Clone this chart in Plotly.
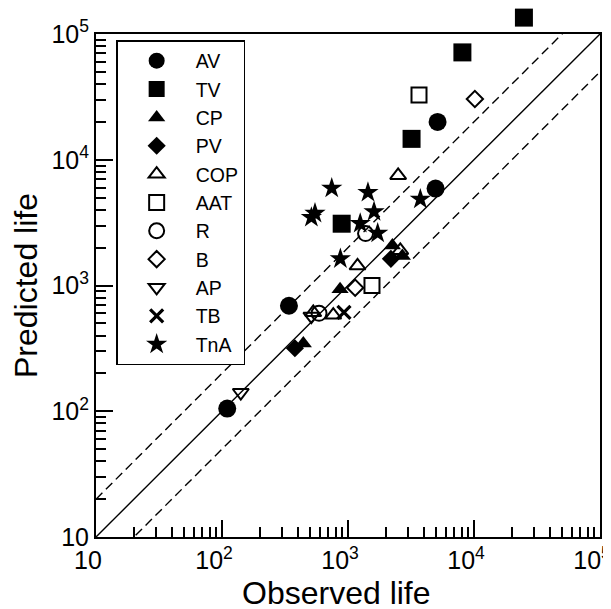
import plotly.graph_objects as go

# ---- data (observed life, predicted life) ----
AV_obs = [110, 340, 5140, 4955]
AV_pred = [105, 690, 20000, 5900]
TV_obs = [24900, 8090, 3195, 891]
TV_pred = [135000, 71400, 14660, 3100]
CP_obs = [442, 865, 2250, 2700]
CP_pred = [345, 935, 2080, 1720]
PV_obs = [379, 2190]
PV_pred = [317, 1630]
COP_obs = [2500, 1190, 2600, 764, 530]
COP_pred = [7500, 1435, 1900, 582, 610]
AAT_obs = [3660, 1550]
AAT_pred = [32700, 1000]
R_obs = [1378, 589]
R_pred = [2590, 601]
B_obs = [10160, 1140]
B_pred = [30400, 960]
AP_obs = [141, 512]
AP_pred = [141, 570]
TB_obs = [929]
TB_pred = [612]
TnA_obs = [3750, 743, 1440, 1610, 547, 512, 1250, 1720, 870]
TnA_pred = [4855, 5950, 5500, 3870, 3750, 3480, 3120, 2605, 1630]

axis_limits = [10, 100000]
ratio_lines = [1, 2, 0.5]
tick_values = [10, 100, 1000, 10000, 100000]
tick_labels = ["10", "10<sup>2</sup>", "10<sup>3</sup>", "10<sup>4</sup>", "10<sup>5</sup>"]
minor_values = [m * 10 ** d for d in range(1, 5) for m in range(2, 10)]

series = [
    ("AV", AV_obs, AV_pred, "circle", 18, True),
    ("TV", TV_obs, TV_pred, "square", 18, True),
    ("CP", CP_obs, CP_pred, "triangle-up", 15, True),
    ("PV", PV_obs, PV_pred, "diamond", 14, True),
    ("COP", COP_obs, COP_pred, "triangle-up-open", 14, False),
    ("AAT", AAT_obs, AAT_pred, "square-open", 15, False),
    ("R", R_obs, R_pred, "circle-open", 15, False),
    ("B", B_obs, B_pred, "diamond-open", 12.5, False),
    ("AP", AP_obs, AP_pred, "triangle-down-open", 14, False),
    ("TB", TB_obs, TB_pred, "x-thin-open", 13, False),
    ("TnA", TnA_obs, TnA_pred, "star", 16, True),
]

# geometry (figure is offset by the page's 8px body margin)
W, H = 603, 601
ML, MR, MT, MB = 88, 11, 0, 72
plot_h = H - MT - MB            # full paper height (markers may go above frame)
frame_h = 503                   # visible frame height
dom_top = frame_h / plot_h
dec_y = 4 / dom_top             # decades spanned by the full paper height

fig = go.Figure()

# reference lines y = k x (main axes, clipped to frame)
for k in ratio_lines:
    fig.add_trace(go.Scatter(
        x=axis_limits, y=[k * v for v in axis_limits], mode="lines",
        line=dict(color="black", width=1.4, dash="solid" if k == 1 else "9px,5px"),
        showlegend=False, hoverinfo="skip", cliponaxis=True,
        xaxis="x", yaxis="y"))

# markers on an invisible axis with identical scale but taller domain
for name, xs, ys, sym, size, filled in series:
    if filled:
        marker = dict(symbol=sym, size=size, color="black", line=dict(width=0))
    else:
        lw = 3.2 if sym.startswith("x") else 2
        marker = dict(symbol=sym, size=size, color="black",
                      line=dict(width=lw, color="black"))
    fig.add_trace(go.Scatter(x=xs, y=ys, mode="markers", name=name,
                             marker=marker, cliponaxis=True,
                             xaxis="x", yaxis="y2"))

tick_font = dict(size=25, color="black", family="Liberation Sans")
title_font = dict(size=32, color="black", family="Liberation Sans")

main_axis = dict(
    type="log", range=[1, 5], tickmode="array",
    tickvals=tick_values, ticktext=tick_labels,
    ticks="inside", ticklen=17, tickwidth=2, tickcolor="black",
    showline=True, linewidth=2, linecolor="black", mirror=True,
    showgrid=False, zeroline=False, tickfont=tick_font,
    ticklabeloverflow="allow", layer="above traces",
    minor=dict(tickmode="array", tickvals=minor_values, ticks="inside",
               ticklen=10, tickwidth=2, tickcolor="black", showgrid=False),
)

fig.update_layout(
    xaxis=dict(**main_axis, anchor="y", ticklabelshift=-8),
    yaxis=dict(**main_axis, anchor="x", domain=[0, dom_top],
               title=dict(text="Predicted life", standoff=10, font=title_font)),
    yaxis2=dict(type="log", range=[1, 1 + dec_y], domain=[0, 1], anchor="x",
                visible=False, showgrid=False, zeroline=False),
    width=W, height=H,
    margin=dict(l=ML, r=MR, t=MT, b=MB, autoexpand=False),
    plot_bgcolor="rgba(0,0,0,0)", paper_bgcolor="white",
    font=dict(family="Liberation Sans", color="black"),
    legend=dict(x=0.04, y=(frame_h - 6) / plot_h, xanchor="left", yanchor="top",
                bgcolor="white", bordercolor="black", borderwidth=1.5,
                font=dict(size=19.5, color="black", family="Liberation Sans"),
                itemwidth=68, tracegroupgap=0),
    annotations=[dict(text="Observed life", xref="paper", yref="paper",
                      x=0.477, y=-0.107 * 523 / plot_h, xanchor="center",
                      yanchor="middle", showarrow=False,
                      font=dict(size=32, color="black", family="Liberation Sans"))],
)

fig.write_html("out.html")
